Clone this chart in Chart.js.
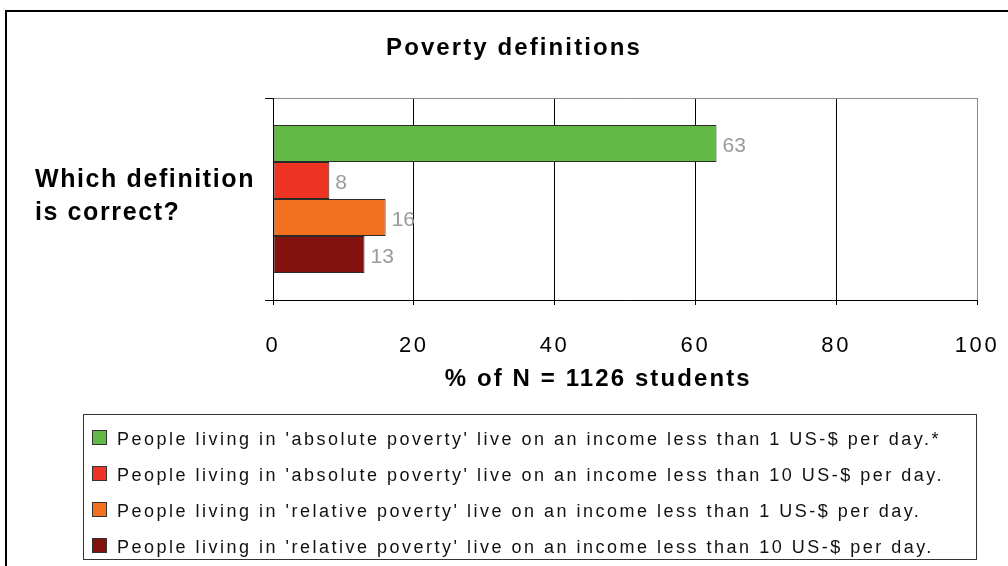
<!DOCTYPE html>
<html>
<head>
<meta charset="utf-8">
<script src="https://cdn.jsdelivr.net/npm/chart.js@4/dist/chart.umd.min.js"></script>
<style>
  html, body { margin: 0; padding: 0; background: #fff; overflow: hidden; width: 1008px; height: 566px; }
  #frame { position: absolute; left: 5px; top: 10px; width: 1100px; height: 700px; border: 2px solid #000; box-sizing: border-box; }
  #wrap { position: absolute; left: 0; top: 0; width: 1008px; height: 566px; }
  #legend { position: absolute; left: 83px; top: 414px; width: 894px; height: 146px; border: 1px solid #333; box-sizing: border-box; padding-top: 6px;
            font-family: "Liberation Sans", Arial, sans-serif; font-size: 18px; letter-spacing: 2.5px; color: #111; }
  .row { height: 36px; display: flex; align-items: center; padding-left: 8px; white-space: nowrap; }
  .sw { width: 15px; height: 15px; border: 1px solid #333; box-sizing: border-box; margin-right: 10px; margin-top: -4px; flex: none; }
</style>
</head>
<body>
<div id="frame"></div>
<div id="wrap"><canvas id="c" width="1008" height="566"></canvas></div>
<div id="legend"></div>
<script>
// ---- data ----
const TITLE = 'Poverty definitions';
const CATEGORIES = [['Which definition', 'is correct?']];
const SERIES_LABELS = [
  "People living in 'absolute poverty' live on an income less than 1 US-$ per day.*",
  "People living in 'absolute poverty' live on an income less than 10 US-$ per day.",
  "People living in 'relative poverty' live on an income less than 1 US-$ per day.",
  "People living in 'relative poverty' live on an income less than 10 US-$ per day."
];
const VALUES = [63, 8, 16, 13];
const COLORS = ['#62b946', '#ee3524', '#f47021', '#83120e'];
const X_TICKS = [0, 20, 40, 60, 80, 100];
const X_TITLE = '% of N = 1126 students';

const FONT = '"Liberation Sans", Arial, sans-serif';

function spacingFor(font) {
  const m = /(\d+(?:\.\d+)?)px/.exec(font);
  const size = m ? parseFloat(m[1]) : 0;
  const bold = /bold|700/.test(font);
  if (bold && size === 24) return 2.1;
  if (bold && size === 25) return 1.6;
  if (!bold && size === 22) return 2.6;
  return 0;
}

const spacingPlugin = {
  id: 'spacing',
  beforeDraw(chart) {
    const ctx = chart.ctx;
    if (ctx.__patched) return;
    const fill = ctx.fillText;
    ctx.fillText = function (t, x, y, w) {
      const prev = this.letterSpacing;
      this.letterSpacing = spacingFor(this.font) + 'px';
      if (w === undefined) fill.call(this, t, x, y); else fill.call(this, t, x, y, w);
      this.letterSpacing = prev;
    };
    ctx.__patched = true;
  }
};

const textPlugin = {
  id: 'texts',
  afterDatasetsDraw(chart) {
    const ctx = chart.ctx;
    ctx.save();
    ctx.font = '21px ' + FONT;
    ctx.fillStyle = '#9a9a9a';
    ctx.textAlign = 'left';
    ctx.textBaseline = 'middle';
    chart.data.datasets.forEach((ds, i) => {
      const meta = chart.getDatasetMeta(i);
      meta.data.forEach((el, j) => {
        ctx.fillText(String(ds.data[j]), el.x + 6, el.y + 3);
      });
    });
    ctx.restore();
  },
  afterDraw(chart) {
    const ctx = chart.ctx;
    const xs = chart.scales.x;
    ctx.save();
    ctx.fillStyle = '#000';
    ctx.textAlign = 'center';
    ctx.textBaseline = 'middle';
    ctx.font = 'bold 24px ' + FONT;
    ctx.fillText(TITLE, 514, 48);
    ctx.fillText(X_TITLE, xs.getPixelForValue(46.2), 379);
    ctx.restore();
  }
};

new Chart(document.getElementById('c'), {
  type: 'bar',
  data: {
    labels: CATEGORIES,
    datasets: SERIES_LABELS.map((lab, i) => ({
      label: lab,
      data: [VALUES[i]],
      backgroundColor: COLORS[i],
      borderColor: '#2a2a2a',
      borderWidth: 1,
      borderSkipped: false,
      categoryPercentage: 0.733,
      barPercentage: 1.0
    }))
  },
  options: {
    indexAxis: 'y',
    responsive: false,
    animation: false,
    events: [],
    layout: { padding: { left: 35, right: 31, top: 98, bottom: 166 } },
    plugins: {
      legend: { display: false },
      title: { display: false },
      tooltip: { enabled: false }
    },
    scales: {
      x: {
        min: 0, max: 100,
        afterBuildTicks(s) { s.ticks = X_TICKS.map(v => ({ value: v })); },
        afterFit(s) { s.height = 100; s.paddingLeft = 0; s.paddingRight = 0; },
        grid: {
          color: c => (c.tick && c.tick.value === 100) ? '#8a8a8a' : '#000',
          tickColor: '#000',
          tickLength: 5,
          lineWidth: 1
        },
        border: { color: '#000', width: 1 },
        ticks: { color: '#000', font: { size: 22, family: FONT }, padding: 28, maxRotation: 0, autoSkip: false }
      },
      y: {
        afterFit(s) { s.width = 238; },
        grid: {
          offset: true,
          color: c => c.index === 0 ? '#8a8a8a' : '#000',
          tickColor: '#000',
          tickLength: 8,
          lineWidth: 1
        },
        border: { color: '#000', width: 1 },
        ticks: {
          color: '#000',
          crossAlign: 'far',
          labelOffset: -2,
          font: { size: 25, weight: 'bold', family: FONT, lineHeight: 1.32 }
        }
      }
    }
  },
  plugins: [spacingPlugin, textPlugin]
});

// HTML legend built from the same arrays
const leg = document.getElementById('legend');
SERIES_LABELS.forEach((lab, i) => {
  const row = document.createElement('div');
  row.className = 'row';
  const sw = document.createElement('span');
  sw.className = 'sw';
  sw.style.background = COLORS[i];
  const tx = document.createElement('span');
  tx.textContent = lab;
  row.appendChild(sw);
  row.appendChild(tx);
  leg.appendChild(row);
});
</script>
</body>
</html>
